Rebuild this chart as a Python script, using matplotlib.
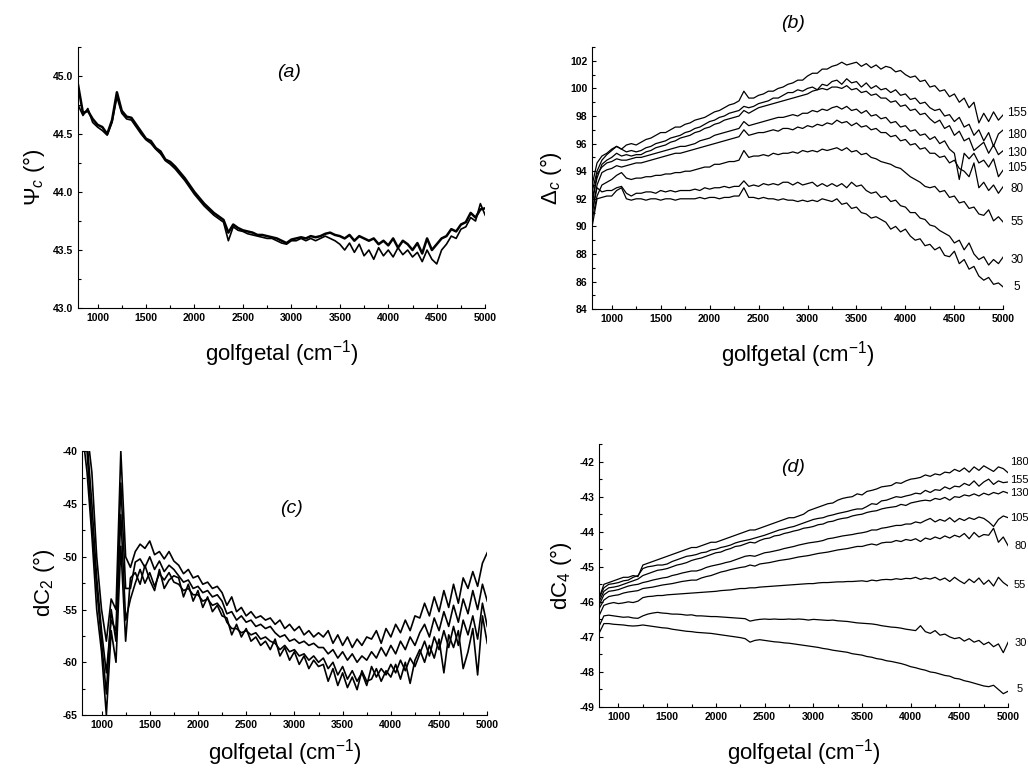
import numpy as np
import matplotlib
matplotlib.use("Agg")
import matplotlib.pyplot as plt
from matplotlib.ticker import MultipleLocator, FormatStrFormatter

plt.rcParams["font.family"] = ["Liberation Sans", "DejaVu Sans"]
plt.rcParams["mathtext.fontset"] = "custom"
plt.rcParams["mathtext.rm"] = "Liberation Sans"
plt.rcParams["mathtext.it"] = "Liberation Sans:italic"

# shared wavenumber grid (cm^-1), 800..5000 step 50
wavenumber = np.arange(800, 5001, 50)

# ---- (a) Psi_c, overlapping spectra (deg)
psi_main = [
    44.92, 44.68, 44.70, 44.63, 44.58, 44.56, 44.50, 44.62, 44.86, 44.70,
    44.65, 44.64, 44.58, 44.52, 44.46, 44.44, 44.38, 44.35, 44.28, 44.26,
    44.22, 44.17, 44.12, 44.06, 44.00, 43.95, 43.90, 43.86, 43.82, 43.79,
    43.76, 43.65, 43.72, 43.69, 43.67, 43.66, 43.65, 43.63, 43.63, 43.62,
    43.61, 43.60, 43.58, 43.56, 43.59, 43.60, 43.61, 43.60, 43.62, 43.61,
    43.62, 43.64, 43.65, 43.63, 43.62, 43.60, 43.63, 43.58, 43.62, 43.60,
    43.58, 43.60, 43.55, 43.58, 43.54, 43.60, 43.52, 43.58, 43.55, 43.50,
    43.56, 43.47, 43.60, 43.50, 43.55, 43.60, 43.62, 43.68, 43.66, 43.72,
    43.74, 43.82, 43.78, 43.85, 43.86,
]
psi_low = [
    44.75, 44.66, 44.72, 44.60, 44.56, 44.53, 44.49, 44.60, 44.82, 44.68,
    44.63, 44.62, 44.56, 44.50, 44.45, 44.42, 44.37, 44.33, 44.27, 44.24,
    44.20, 44.15, 44.10, 44.04, 43.98, 43.93, 43.88, 43.84, 43.80, 43.77,
    43.74, 43.58, 43.70, 43.67, 43.66, 43.64, 43.63, 43.62, 43.61, 43.60,
    43.60, 43.58, 43.56, 43.55, 43.58, 43.58, 43.60, 43.58, 43.60, 43.58,
    43.60, 43.62, 43.60, 43.58, 43.55, 43.50, 43.56, 43.48, 43.55, 43.45,
    43.50, 43.42, 43.52, 43.45, 43.50, 43.44, 43.52, 43.46, 43.50, 43.44,
    43.48, 43.40, 43.50, 43.42, 43.38, 43.50, 43.55, 43.62, 43.60, 43.68,
    43.70, 43.78, 43.75, 43.90, 43.80,
]

# ---- (b) Delta_c per angle (deg)
delta_155 = [
    93.0, 94.6, 95.1, 95.3, 95.6, 95.8, 95.6, 95.9, 96.0, 95.9,
    96.1, 96.3, 96.4, 96.6, 96.8, 96.8, 97.0, 97.2, 97.2, 97.4,
    97.5, 97.7, 97.8, 97.9, 98.1, 98.3, 98.4, 98.6, 98.8, 98.9,
    99.1, 99.8, 99.3, 99.3, 99.5, 99.6, 99.8, 99.8, 100.0, 100.1,
    100.3, 100.4, 100.6, 100.6, 100.9, 101.1, 101.1, 101.4, 101.4, 101.6,
    101.7, 101.9, 101.7, 101.8, 101.9, 101.6, 101.8, 101.5, 101.7, 101.4,
    101.6, 101.5, 101.2, 101.3, 101.0, 100.8, 100.9, 100.5, 100.6, 100.1,
    100.2, 99.8, 99.9, 99.4, 99.6, 99.0, 99.3, 98.6, 99.0, 97.5,
    98.2, 97.6, 98.3, 97.7, 98.1,
]
delta_180 = [
    92.5, 94.0, 94.8, 95.2, 95.5, 95.8, 95.6, 95.4, 95.5, 95.4,
    95.5, 95.7, 95.8, 96.0, 96.1, 96.2, 96.4, 96.5, 96.6, 96.8,
    96.9, 97.1, 97.2, 97.4, 97.6, 97.7, 97.9, 98.0, 98.2, 98.3,
    98.4, 98.7, 98.6, 98.7, 98.9, 99.0, 99.1, 99.3, 99.3, 99.5,
    99.7, 99.7, 99.9, 99.8, 100.0, 100.1, 99.9, 100.3, 100.2, 100.5,
    100.6, 100.3, 100.7, 100.4, 100.5, 100.1, 100.4, 100.0, 100.2, 99.9,
    100.0, 99.7, 99.9, 99.5, 99.6, 99.2, 99.3, 98.9, 99.0, 98.6,
    98.4, 98.5, 98.0, 98.1, 97.6, 97.9, 97.2, 97.4, 96.6, 97.0,
    96.2, 96.8, 95.8, 96.7, 97.0,
]
delta_130 = [
    92.0, 93.5, 94.5, 94.8, 95.0, 95.3, 95.1, 95.2, 95.1, 95.2,
    95.2, 95.4, 95.5, 95.7, 95.8, 95.9, 96.1, 96.2, 96.4, 96.5,
    96.6, 96.8, 96.9, 97.1, 97.2, 97.4, 97.5, 97.7, 97.8, 97.9,
    98.0, 98.4, 98.2, 98.4, 98.6, 98.7, 98.8, 98.9, 99.0, 99.1,
    99.2, 99.3, 99.4, 99.5, 99.6, 99.8, 99.9, 100.0, 99.9, 100.1,
    100.1, 100.0, 100.2, 99.9, 100.0, 99.7, 99.8, 99.5, 99.6, 99.3,
    99.3, 99.0, 99.1, 98.7, 98.8, 98.4, 98.5, 98.1, 98.2, 97.8,
    97.5, 97.7, 97.1, 97.3, 96.6, 96.9, 96.2, 96.4, 95.5, 95.8,
    96.1, 95.3, 95.9, 95.2, 95.5,
]
delta_105 = [
    91.5, 93.8, 94.3, 94.6, 94.7, 94.9, 94.8, 94.8, 94.9, 95.0,
    95.0, 95.1, 95.2, 95.3, 95.4, 95.5, 95.6, 95.7, 95.8, 95.8,
    95.9, 96.0, 96.2, 96.3, 96.4, 96.6, 96.7, 96.8, 96.9, 97.0,
    97.1, 97.6, 97.3, 97.4, 97.5, 97.6, 97.7, 97.8, 97.9, 97.9,
    98.0, 98.1, 98.0, 98.2, 98.2, 98.4, 98.3, 98.5, 98.4, 98.6,
    98.7, 98.5, 98.7, 98.4, 98.5, 98.2, 98.4, 98.0, 98.1, 97.8,
    97.9, 97.5, 97.6, 97.2, 97.3, 96.9, 97.0, 96.6, 96.7, 96.3,
    96.5, 96.0, 96.2, 95.6, 95.3, 93.4, 95.3, 94.9, 95.3, 94.6,
    94.8, 94.3, 94.9, 93.6, 94.1,
]
delta_80 = [
    91.0, 93.0, 93.9, 94.1, 94.2, 94.4, 94.3, 94.4, 94.5, 94.6,
    94.6, 94.7, 94.8, 94.9, 95.0, 95.1, 95.2, 95.3, 95.3, 95.4,
    95.5, 95.6, 95.7, 95.8, 95.9, 96.0, 96.1, 96.2, 96.3, 96.4,
    96.5, 97.0, 96.6, 96.7, 96.8, 96.8, 96.9, 97.0, 96.9, 97.1,
    97.1, 97.0, 97.2, 97.1, 97.3, 97.2, 97.4, 97.3, 97.5, 97.4,
    97.7, 97.5, 97.6, 97.3, 97.5, 97.2, 97.3, 97.0, 97.1, 96.8,
    96.8, 96.5, 96.6, 96.2, 96.3, 95.9, 96.0, 95.6, 95.7, 95.3,
    95.3, 95.0, 95.1, 94.6, 94.8, 94.2, 94.0, 93.6, 94.6, 92.8,
    93.2, 92.6, 93.0, 92.4, 92.9,
]
delta_55 = [
    90.5, 92.2, 93.0, 93.2, 93.4, 93.7, 93.9, 93.5, 93.4, 93.5,
    93.5, 93.6, 93.6, 93.7, 93.7, 93.8, 93.8, 93.9, 93.9, 94.0,
    94.0, 94.1, 94.2, 94.3, 94.3, 94.5, 94.5, 94.6, 94.7, 94.7,
    94.8, 95.5, 95.0, 95.1, 95.1, 95.2, 95.1, 95.3, 95.2, 95.3,
    95.3, 95.4, 95.3, 95.5, 95.4, 95.5, 95.4, 95.6, 95.5, 95.6,
    95.7, 95.5, 95.7, 95.4, 95.5, 95.2, 95.3, 95.0, 94.9, 94.7,
    94.6, 94.5, 94.3, 94.2, 93.9, 93.6, 93.4, 93.2, 92.9, 92.8,
    92.9, 92.5, 92.6, 92.1, 92.2, 91.7, 91.8, 91.3, 91.4, 90.9,
    90.8, 91.2, 90.4, 90.7, 90.3,
]
delta_30 = [
    91.0, 92.8, 92.5, 92.6, 92.6, 92.8, 92.9, 92.4, 92.2, 92.4,
    92.4, 92.5, 92.5, 92.4, 92.6, 92.5, 92.6, 92.5, 92.6, 92.6,
    92.6, 92.7, 92.6, 92.8, 92.7, 92.8, 92.8, 92.9, 92.8, 92.9,
    92.9, 93.3, 92.9, 93.0, 92.9, 93.1, 93.0, 93.1, 93.0, 93.2,
    93.2, 93.0, 93.2, 93.0, 93.1, 93.2, 92.9, 93.1, 92.9, 93.1,
    92.9, 93.1, 92.8, 93.2, 92.9, 93.0, 92.6, 92.4, 92.5, 92.1,
    92.2, 91.8, 91.9, 91.5, 91.4, 91.0, 91.0, 90.6, 90.5, 90.1,
    90.0, 89.7, 89.5, 89.3, 88.8, 89.0, 88.3, 88.8, 88.0, 87.6,
    87.8, 87.2, 87.6, 87.3, 87.8,
]
delta_5 = [
    90.0, 92.0, 92.1, 92.2, 92.2, 92.6, 92.8, 92.0, 91.9, 92.0,
    92.0, 91.9, 92.0, 92.0, 91.9, 92.0, 92.0, 91.9, 92.0, 92.0,
    92.0, 92.0, 92.1, 92.0, 92.1, 92.1, 92.0, 92.1, 92.1, 92.2,
    92.2, 92.8, 92.1, 92.1, 92.0, 92.1, 92.0, 92.0, 91.9, 92.0,
    91.9, 91.9, 91.8, 91.9, 91.8, 91.9, 91.8, 92.0, 91.9, 91.8,
    92.0, 91.6, 91.7, 91.3, 91.4, 91.0, 90.9, 90.6, 90.7, 90.5,
    90.3, 89.8, 90.0, 89.6, 89.8, 89.3, 89.0, 89.1, 88.6, 88.7,
    88.3, 88.5, 87.9, 87.8, 88.2, 87.3, 87.6, 86.9, 87.1, 86.4,
    86.1, 86.3, 85.8, 85.9, 85.6,
]
delta_labels = ["155", "180", "130", "105", "80", "55", "30", "5"]
delta_label_y = [98.2, 96.6, 95.3, 94.2, 92.7, 90.3, 87.6, 85.6]

# ---- (c) dC2, noisy overlapping spectra (deg)
dc2_a = [
    -37, -38, -42, -50, -55, -58, -54, -55, -40, -50,
    -51, -49.5, -48.8, -49.2, -48.5, -49.8, -49.5, -50.2, -49.5, -50.4,
    -50.8, -51.6, -51.2, -52.0, -51.8, -52.6, -52.4, -53.0, -52.8, -53.4,
    -54.6, -53.8, -55.2, -54.8, -55.6, -55.2, -55.8, -55.6, -56.0, -55.8,
    -56.4, -56.0, -56.8, -56.4, -57.0, -56.6, -57.4, -57.0, -57.6, -57.2,
    -57.6, -57.0, -58.2, -57.4, -58.4, -57.6, -58.6, -57.8, -58.4, -57.6,
    -57.8, -57.0, -58.2, -56.8, -57.6, -56.4, -57.2, -56.0, -57.0, -55.6,
    -55.8, -54.4, -55.6, -53.8, -55.2, -53.2, -54.8, -52.6, -54.4, -52.0,
    -53.0, -51.4, -52.8, -50.6, -49.6,
]
dc2_b = [
    -38, -39, -45, -52, -57, -61, -56, -57, -43, -53,
    -53, -50.5, -50.2, -51, -50, -51.2, -50.4, -51.4, -50.8, -51.2,
    -51.8, -52.4, -52.2, -53.0, -52.8, -53.4, -53.2, -53.8, -53.6, -54.2,
    -55.4, -55.2, -56.0, -55.6, -56.2, -56.0, -56.6, -56.4, -56.8, -56.6,
    -57.2, -57.6, -57.4, -58.0, -57.8, -58.2, -58.0, -58.4, -58.2, -58.6,
    -58.6, -59.2, -58.8, -59.6, -59.0, -59.8, -59.2, -60.0, -59.4, -59.8,
    -59.0, -59.6, -58.6, -59.4, -58.4, -59.2, -58.0, -58.8, -57.6, -58.4,
    -57.2, -56.4, -57.6, -55.8, -57.0, -55.2, -56.6, -54.6, -56.2, -54.0,
    -55.4, -53.2, -55.0, -52.6, -54.2,
]
dc2_c = [
    -39, -40, -47, -53, -58, -63, -55, -58, -46, -56,
    -54, -52.5, -51.2, -52.5, -51.5, -52.8, -51.6, -52.2, -51.5, -52.4,
    -52.6, -53.2, -53.0, -53.6, -53.6, -54.2, -54.0, -54.6, -54.4, -55.0,
    -56.2, -56.8, -56.8, -57.2, -57.0, -57.4, -57.2, -57.8, -57.6, -58.0,
    -58.2, -58.8, -58.4, -59.0, -58.8, -59.4, -59.2, -59.8, -59.4, -60.0,
    -59.6, -60.6, -60.0, -61.2, -60.4, -61.6, -60.8, -61.8, -61.0, -62.2,
    -60.4, -61.4, -60.6, -61.2, -60.2, -61.0, -59.8, -60.8, -59.6, -60.4,
    -59.2, -58.0, -59.4, -57.6, -58.8, -57.0, -58.6, -56.6, -58.4, -56.0,
    -57.4, -55.6, -57.8, -54.4, -56.6,
]
dc2_d = [
    -38, -42, -48, -55, -59, -65, -57, -60, -49, -58,
    -52, -51.5, -52.6, -50.8, -52.2, -53.2, -51.2, -53.0, -52.2, -51.8,
    -52.0, -53.8, -52.6, -54.2, -53.2, -54.8, -53.8, -55.2, -54.6, -55.6,
    -55.8, -57.4, -56.4, -57.6, -56.8, -58.0, -57.6, -58.4, -58.0, -58.8,
    -57.8, -59.4, -58.6, -59.8, -59.0, -60.2, -59.4, -60.6, -59.8, -60.4,
    -60.2, -61.8, -60.6, -62.2, -61.0, -62.4, -61.4, -62.6, -60.8, -61.8,
    -61.6, -60.6, -61.8, -60.8, -61.4, -60.2, -61.6, -60.0, -62.0, -59.8,
    -58.8, -60.0, -58.4, -59.6, -57.8, -61.0, -57.4, -58.6, -57.0, -60.6,
    -59.0, -56.8, -61.2, -55.6, -58.2,
]

# ---- (d) dC4 per angle (deg)
dc4_180 = [
    -45.9, -45.5, -45.45, -45.4, -45.35, -45.3, -45.3, -45.25, -45.28, -44.95,
    -44.9, -44.85, -44.8, -44.75, -44.7, -44.65, -44.6, -44.55, -44.5, -44.45,
    -44.45, -44.4, -44.35, -44.3, -44.3, -44.25, -44.2, -44.15, -44.1, -44.05,
    -44.0, -43.95, -43.95, -43.9, -43.85, -43.8, -43.75, -43.7, -43.65, -43.6,
    -43.6, -43.55, -43.5, -43.4, -43.35, -43.3, -43.25, -43.2, -43.18, -43.1,
    -43.05, -43.02, -43.0, -42.92, -42.95, -42.85, -42.82, -42.78, -42.72, -42.7,
    -42.68, -42.6, -42.62, -42.55, -42.5, -42.48, -42.45, -42.38, -42.42, -42.35,
    -42.38, -42.3, -42.32, -42.22, -42.28, -42.18, -42.3, -42.15, -42.25, -42.12,
    -42.2, -42.28, -42.15, -42.2, -42.32,
]
dc4_155 = [
    -45.9, -45.6, -45.5, -45.48, -45.45, -45.4, -45.38, -45.3, -45.25, -45.05,
    -45.0, -44.98, -44.95, -44.95, -44.92, -44.85, -44.8, -44.75, -44.7, -44.68,
    -44.65, -44.6, -44.58, -44.52, -44.5, -44.45, -44.42, -44.38, -44.32, -44.28,
    -44.25, -44.22, -44.18, -44.14, -44.1, -44.05, -44.0, -43.95, -43.92, -43.88,
    -43.85, -43.8, -43.75, -43.7, -43.65, -43.62, -43.6, -43.55, -43.52, -43.48,
    -43.45, -43.42, -43.38, -43.35, -43.35, -43.28, -43.2, -43.22, -43.12, -43.1,
    -43.05, -43.0, -43.02, -42.98, -42.95, -42.9, -42.92, -42.82, -42.88, -42.8,
    -42.82, -42.72, -42.78, -42.7, -42.72, -42.62, -42.68, -42.55, -42.7, -42.58,
    -42.5, -42.65, -42.55, -42.6, -42.58,
]
dc4_130 = [
    -46.0, -45.7, -45.6, -45.58, -45.55, -45.5, -45.45, -45.4, -45.35, -45.25,
    -45.2, -45.15, -45.1, -45.08, -45.05, -45.0, -44.95, -44.92, -44.88, -44.82,
    -44.78, -44.75, -44.7, -44.65, -44.6, -44.58, -44.52, -44.48, -44.42, -44.4,
    -44.35, -44.3, -44.32, -44.25, -44.2, -44.18, -44.12, -44.1, -44.05, -44.02,
    -43.98, -43.95, -43.9, -43.88, -43.85, -43.8, -43.78, -43.72, -43.7, -43.65,
    -43.62, -43.6, -43.55, -43.52, -43.5, -43.45, -43.42, -43.4, -43.35, -43.32,
    -43.3, -43.28, -43.22, -43.25, -43.18, -43.15, -43.12, -43.1, -43.12, -43.05,
    -43.08, -43.02, -43.1, -43.0, -43.02, -42.95, -42.98, -42.92, -42.98, -42.9,
    -42.95, -42.88, -42.92, -42.85, -42.9,
]
dc4_105 = [
    -46.1, -45.8, -45.7, -45.68, -45.65, -45.6, -45.55, -45.52, -45.5, -45.45,
    -45.42, -45.38, -45.35, -45.32, -45.3, -45.25, -45.22, -45.18, -45.15, -45.12,
    -45.12, -45.08, -45.02, -44.98, -44.95, -44.92, -44.88, -44.85, -44.8, -44.75,
    -44.7, -44.68, -44.7, -44.65, -44.6, -44.58, -44.55, -44.52, -44.48, -44.45,
    -44.42, -44.38, -44.35, -44.32, -44.3, -44.28, -44.25, -44.2, -44.18, -44.15,
    -44.12, -44.1, -44.08, -44.05, -44.03, -44.0, -43.95, -43.95, -43.9, -43.88,
    -43.85, -43.82, -43.82, -43.78, -43.78, -43.72, -43.75, -43.68, -43.62, -43.72,
    -43.65, -43.7, -43.6, -43.72, -43.62, -43.68, -43.6, -43.65, -43.58, -43.62,
    -43.72, -43.85, -43.65, -43.55, -43.6,
]
dc4_80 = [
    -46.2, -45.95, -45.85, -45.82, -45.8, -45.75, -45.72, -45.7, -45.68, -45.62,
    -45.6, -45.58, -45.55, -45.52, -45.5, -45.48, -45.45, -45.42, -45.4, -45.38,
    -45.38, -45.32, -45.28, -45.25, -45.2, -45.15, -45.12, -45.08, -45.05, -45.02,
    -45.0, -44.95, -44.98, -44.92, -44.9, -44.88, -44.85, -44.82, -44.8, -44.78,
    -44.75, -44.72, -44.7, -44.68, -44.65, -44.62, -44.6, -44.58, -44.55, -44.52,
    -44.5, -44.48, -44.45, -44.42, -44.42, -44.38, -44.35, -44.38, -44.32, -44.3,
    -44.3, -44.25, -44.28, -44.22, -44.25, -44.2, -44.28, -44.18, -44.22, -44.15,
    -44.2, -44.12, -44.18, -44.1, -44.15, -44.05, -44.2, -44.02, -44.15, -44.08,
    -44.1, -43.9, -44.3, -44.15, -44.4,
]
dc4_55 = [
    -46.4, -46.1, -46.05, -46.02, -46.05, -46.03, -46.0, -46.02, -45.98, -45.88,
    -45.85, -45.84, -45.82, -45.82, -45.8, -45.79, -45.78, -45.77, -45.76, -45.75,
    -45.74, -45.73, -45.72, -45.71, -45.7, -45.68, -45.67, -45.66, -45.64, -45.62,
    -45.62, -45.6, -45.6, -45.58, -45.57, -45.56, -45.55, -45.54, -45.53, -45.52,
    -45.51, -45.5, -45.49, -45.48, -45.48, -45.46, -45.45, -45.45, -45.44, -45.43,
    -45.43, -45.42, -45.42, -45.41, -45.4, -45.42, -45.38, -45.4, -45.37, -45.36,
    -45.37, -45.34, -45.36, -45.33, -45.34, -45.3, -45.36, -45.32, -45.35, -45.3,
    -45.38, -45.32, -45.42, -45.3, -45.4, -45.48, -45.35, -45.45, -45.32, -45.5,
    -45.38, -45.55, -45.3, -45.45, -45.55,
]
dc4_30 = [
    -46.7, -46.4, -46.38, -46.4, -46.42, -46.44, -46.43, -46.46, -46.47, -46.4,
    -46.35, -46.32, -46.3, -46.32, -46.33, -46.35, -46.35, -46.36, -46.38, -46.37,
    -46.4, -46.4, -46.41, -46.42, -46.42, -46.43, -46.44, -46.45, -46.46, -46.47,
    -46.48, -46.55, -46.52, -46.5, -46.49, -46.5, -46.49, -46.5, -46.5, -46.49,
    -46.5, -46.49, -46.5, -46.52, -46.5, -46.51, -46.52, -46.53, -46.52, -46.54,
    -46.55, -46.56, -46.58, -46.6, -46.61, -46.62, -46.63, -46.65, -46.68, -46.7,
    -46.72, -46.73, -46.75, -46.78, -46.8, -46.82, -46.68, -46.85, -46.9, -46.82,
    -46.95, -46.92, -47.0, -47.05, -47.02, -47.12, -47.05, -47.15, -47.1, -47.22,
    -47.15, -47.28, -47.2, -47.45, -47.15,
]
dc4_5 = [
    -46.9, -46.62, -46.62, -46.64, -46.65, -46.66, -46.68, -46.69, -46.68, -46.66,
    -46.68, -46.7, -46.72, -46.74, -46.75, -46.78, -46.8, -46.82, -46.84, -46.85,
    -46.87, -46.88, -46.89, -46.9, -46.92, -46.94, -46.96, -46.98, -47.0, -47.02,
    -47.05, -47.15, -47.1, -47.08, -47.1, -47.12, -47.14, -47.15, -47.17, -47.18,
    -47.2, -47.22, -47.24, -47.26, -47.28, -47.3, -47.33, -47.35, -47.38, -47.4,
    -47.42, -47.44, -47.48, -47.5, -47.52, -47.56, -47.58, -47.62, -47.64, -47.68,
    -47.7, -47.73, -47.76, -47.8, -47.85, -47.88, -47.92, -47.95, -48.0, -48.02,
    -48.06, -48.1, -48.12, -48.18, -48.2, -48.25, -48.28, -48.32, -48.36, -48.4,
    -48.42, -48.38, -48.5, -48.62, -48.55,
]
dc4_labels = ["180", "155", "130", "105", "80", "55", "30", "5"]
dc4_label_y = [-42.0, -42.52, -42.89, -43.6, -44.4, -45.53, -47.17, -48.49]
dc4_label_x = [5020, 5020, 5020, 5020, 5060, 5060, 5070, 5090]


def style_axes(ax, ylim, ymajor, yfmt, ylabel, xpad):
    ax.set_xlim(800, 5000)
    ax.set_ylim(*ylim)
    for side in ("top", "right"):
        ax.spines[side].set_visible(False)
    ax.xaxis.set_major_locator(MultipleLocator(500))
    ax.xaxis.set_minor_locator(MultipleLocator(250))
    ax.yaxis.set_major_locator(MultipleLocator(ymajor))
    ax.yaxis.set_minor_locator(MultipleLocator(ymajor / 2))
    ax.yaxis.set_major_formatter(FormatStrFormatter(yfmt))
    ax.tick_params(which="both", direction="in", width=0.8)
    ax.tick_params(which="major", length=3, labelsize=7.5)
    ax.tick_params(which="minor", length=2)
    for lab in ax.get_xticklabels() + ax.get_yticklabels():
        lab.set_fontweight("bold")
    ax.set_xlabel("golfgetal (cm$^{-1}$)", fontsize=16, labelpad=xpad)
    ax.set_ylabel(ylabel, fontsize=16, labelpad=4)


fig = plt.figure(figsize=(10.28, 7.71), dpi=100)
ax_a = fig.add_axes([0.076, 0.6005, 0.396, 0.3385])
ax_b = fig.add_axes([0.576, 0.599, 0.400, 0.340])
ax_c = fig.add_axes([0.080, 0.0726, 0.394, 0.342])
ax_d = fig.add_axes([0.5827, 0.083, 0.398, 0.341])

# (a)
ax_a.plot(wavenumber, psi_low, color="black", lw=1.2)
ax_a.plot(wavenumber, psi_main, color="black", lw=1.8)
style_axes(ax_a, (43.0, 45.25), 0.5, "%.1f", r"$\Psi_c$ (°)", 11)

# (b)
delta_series = [delta_155, delta_180, delta_130, delta_105,
                delta_80, delta_55, delta_30, delta_5]
for ys in delta_series:
    ax_b.plot(wavenumber, ys, color="black", lw=0.9)
for lab, yy in zip(delta_labels, delta_label_y):
    ax_b.text(5142, yy, lab, fontsize=8.5, ha="center", va="center", clip_on=False)
style_axes(ax_b, (84, 103), 2, "%d", r"$\Delta_c$ (°)", 11)

# (c)
for ys in (dc2_a, dc2_b, dc2_c, dc2_d):
    ax_c.plot(wavenumber, ys, color="black", lw=1.2)
style_axes(ax_c, (-65, -40), 5, "%d", "dC$_2$ (°)", 5)

# (d)
dc4_series = [dc4_180, dc4_155, dc4_130, dc4_105, dc4_80, dc4_55, dc4_30, dc4_5]
for ys in dc4_series:
    ax_d.plot(wavenumber, ys, color="black", lw=0.9)
for lab, xx, yy in zip(dc4_labels, dc4_label_x, dc4_label_y):
    ax_d.text(xx, yy, lab, fontsize=8, ha="left", va="center", clip_on=False)
style_axes(ax_d, (-49, -41.5), 1, "%d", "dC$_4$ (°)", 11)

# panel letters
for txt, px, py in [("(a)", 0.281, 0.9066), ("(b)", 0.7714, 0.970),
                    ("(c)", 0.284, 0.341), ("(d)", 0.7714, 0.393)]:
    fig.text(px, py, txt, fontsize=14, style="italic", ha="center", va="center")

fig.savefig("out.png", dpi=100)
